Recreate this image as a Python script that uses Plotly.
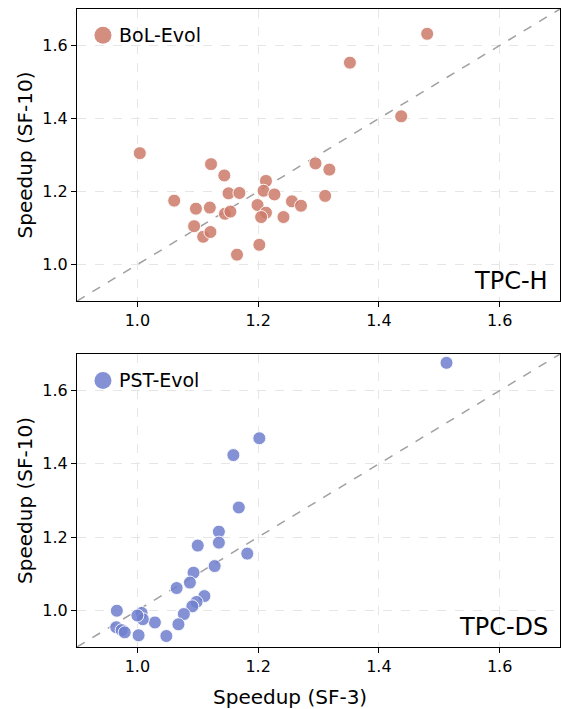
import plotly.graph_objects as go
from plotly.subplots import make_subplots

# TPC-H (BoL-Evol)
h_sf3 = [1.004, 1.061, 1.122, 1.144, 1.151, 1.169, 1.097, 1.120, 1.145, 1.154,
         1.094, 1.109, 1.121, 1.165, 1.199, 1.213, 1.209, 1.227, 1.213, 1.205,
         1.202, 1.242, 1.256, 1.271, 1.295, 1.318, 1.311, 1.352, 1.437, 1.480]
h_sf10 = [1.305, 1.175, 1.275, 1.244, 1.195, 1.196, 1.153, 1.156, 1.139, 1.145,
          1.105, 1.076, 1.089, 1.027, 1.163, 1.229, 1.202, 1.192, 1.142, 1.130,
          1.054, 1.130, 1.173, 1.161, 1.277, 1.260, 1.188, 1.553, 1.406, 1.632]

# TPC-DS (PST-Evol)
ds_sf3 = [1.202, 1.159, 1.168, 1.135, 1.135, 1.100, 1.182, 1.128, 1.093, 1.087,
          1.065, 1.111, 1.098, 1.091, 1.077, 1.068, 1.048, 1.029, 1.002, 1.007,
          1.009, 1.000, 0.966, 0.965, 0.974, 0.979, 1.512]
ds_sf10 = [1.470, 1.424, 1.281, 1.215, 1.185, 1.177, 1.155, 1.121, 1.103, 1.076,
           1.061, 1.039, 1.023, 1.011, 0.990, 0.962, 0.930, 0.967, 0.932, 0.993,
           0.976, 0.986, 0.999, 0.954, 0.946, 0.940, 1.676]

diag = [0.9, 1.7]
ticks = [1.0, 1.2, 1.4, 1.6]
tick_text = ["1.0", "1.2", "1.4", "1.6"]

FONT = "DejaVu Sans"
col_h = "rgba(204,122,106,0.85)"
col_ds = "rgba(110,127,206,0.85)"

fig = make_subplots(rows=2, cols=1, vertical_spacing=0.083)

for r, (xs, ys, name, col) in enumerate([(h_sf3, h_sf10, "BoL-Evol", col_h),
                                          (ds_sf3, ds_sf10, "PST-Evol", col_ds)], start=1):
    fig.add_trace(go.Scatter(x=diag, y=diag, mode="lines",
                             line=dict(color="#a0a0a0", width=1.5, dash="dash"),
                             showlegend=False, hoverinfo="skip"), row=r, col=1)
    fig.add_trace(go.Scatter(x=xs, y=ys, mode="markers", name=name,
                             marker=dict(size=13, color=col,
                                         line=dict(color="rgba(255,255,255,0.9)", width=1)),
                             showlegend=False), row=r, col=1)

axis_common = dict(range=[0.9, 1.7], tickvals=ticks, ticktext=tick_text,
                   showline=True, linecolor="black", linewidth=1.2, mirror=True,
                   ticks="outside", ticklen=5, tickcolor="black",
                   showgrid=True, gridcolor="#e6e6e6", griddash="dash", gridwidth=1,
                   zeroline=False, tickfont=dict(family=FONT, size=16, color="black"))

fig.update_xaxes(**axis_common)
fig.update_yaxes(**axis_common)
fig.update_yaxes(title_text="Speedup (SF-10)", title_font=dict(family=FONT, size=20, color="black"),
                 title_standoff=4)

fig.update_layout(
    width=561, height=709,
    margin=dict(l=77, r=1, t=9, b=62),
    plot_bgcolor="white", paper_bgcolor="white",
    font=dict(family=FONT, color="black"),
)
fig.update_layout(yaxis=dict(domain=[0.5423, 1.0]), yaxis2=dict(domain=[0.0, 0.4592]))

# x-axis title (centred on the figure, as in the reference)
fig.add_annotation(x=(290 - 77) / 483, y=-0.078, xref="paper", yref="paper",
                   text="Speedup (SF-3)", showarrow=False, xanchor="center", yanchor="middle",
                   font=dict(family=FONT, size=20, color="black"))

# legend-like labels inside each panel
for xr, yr, name, col in [("x", "y", "BoL-Evol", col_h), ("x2", "y2", "PST-Evol", col_ds)]:
    fig.add_trace(go.Scatter(x=[0.943], y=[1.628], mode="markers", xaxis=xr, yaxis=yr,
                             marker=dict(size=17, color=col),
                             showlegend=False, hoverinfo="skip"))
    fig.add_annotation(x=0.966, y=1.628, xref=xr, yref=yr, text=name, showarrow=False,
                       xanchor="left", yanchor="middle",
                       font=dict(family=FONT, size=19, color="black"))

fig.add_annotation(x=0.98, y=0.015, xref="x domain", yref="y domain", text="TPC-H",
                   showarrow=False, xanchor="right", yanchor="bottom",
                   font=dict(family=FONT, size=24, color="black"))
fig.add_annotation(x=0.98, y=0.015, xref="x2 domain", yref="y2 domain", text="TPC-DS",
                   showarrow=False, xanchor="right", yanchor="bottom",
                   font=dict(family=FONT, size=24, color="black"))

fig.write_html("out.html")
